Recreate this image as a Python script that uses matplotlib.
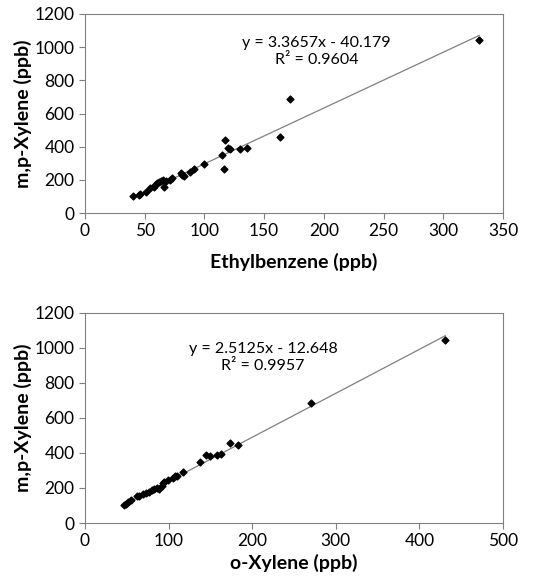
import numpy as np
import matplotlib.pyplot as plt

plt.rcParams['font.family'] = ['Lato', 'DejaVu Sans']

# Top panel: Ethylbenzene vs m,p-Xylene
eb_x = [40.4, 45.5, 46, 50.8, 54.4, 57.7, 59, 60, 62, 64, 65.5, 66, 68, 71, 72.5,
        80, 81, 83, 88, 91, 100, 115, 116, 117, 120, 121, 130, 136, 163, 172, 330]
eb_y = [104, 110, 114, 126, 150, 157, 170, 180, 185, 190, 200, 155, 195, 200, 210,
        240, 230, 225, 250, 265, 295, 350, 267, 441, 390, 385, 385, 391, 457, 686, 1043]
eb_fit = (3.3657, -40.179)

# Bottom panel: o-Xylene vs m,p-Xylene
ox_x = [46.6, 49, 52, 54.6, 61.8, 65, 69, 73, 77, 80, 82.5, 86.5, 89, 91.6, 93, 94.4,
        99.6, 105, 107.6, 109.6, 116.7, 138, 144.6, 149.4, 158, 163, 174, 182.5, 270, 431]
ox_y = [104, 110, 122, 133, 152, 156, 163, 171, 180, 190, 194, 199, 194, 209, 228, 237,
        243, 256, 266, 266, 294, 351, 389, 384, 387, 395, 459, 446, 687, 1048]
ox_fit = (2.5125, -12.648)

fig = plt.figure(figsize=(5.48, 5.79), dpi=100)
W, H = 548, 579


def panel(rect, x, y, fit, xmax, xlabel, xpad, eq, r2, txt_pos):
    ax = fig.add_axes(rect)
    ax.scatter(x, y, marker='D', s=12, color='black', zorder=3)
    xs = np.array([min(x), max(x)])
    ax.plot(xs, fit[0] * xs + fit[1], color='#808080', lw=0.9)
    ax.set_xlim(0, xmax)
    ax.set_ylim(0, 1200)
    ax.set_yticks(range(0, 1201, 200))
    for s in ax.spines.values():
        s.set_color('#808080')
    ax.tick_params(direction='out', length=4, color='#808080', labelsize=12.5)
    ax.set_ylabel('m,p-Xylene (ppb)', fontsize=14, fontweight='bold', labelpad=2)
    ax.set_xlabel(xlabel, fontsize=14, fontweight='bold', labelpad=xpad)
    ax.text(txt_pos[0], txt_pos[1], eq + '\n' + r2, ha='center', va='center',
            fontsize=11.5, linespacing=1.25)
    return ax


panel([85 / W, 1 - 213 / H, 418 / W, 199 / H], eb_x, eb_y, eb_fit, 350,
      'Ethylbenzene (ppb)', 10, 'y = 3.3657x - 40.179', 'R² = 0.9604', (194, 972))
panel([85 / W, 1 - 523 / H, 418 / W, 210 / H], ox_x, ox_y, ox_fit, 500,
      'o-Xylene (ppb)', 3, 'y = 2.5125x - 12.648', 'R² = 0.9957', (213, 945))

fig.savefig('out.png', dpi=100)
